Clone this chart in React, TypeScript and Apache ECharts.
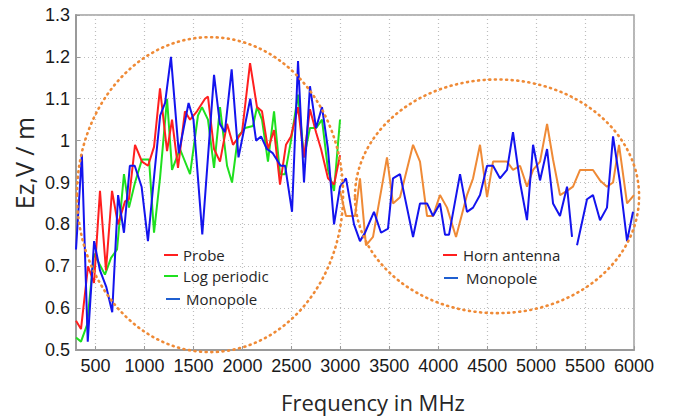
import React, { useEffect, useRef } from "react";
import * as echarts from "echarts";

const xTicks = [500, 1000, 1500, 2000, 2500, 3000, 3500, 4000, 4500, 5000, 5500, 6000];

const probe: [number, number][] = [
  [300, 0.57], [351, 0.55], [423, 0.7], [484, 0.66], [545, 0.88], [606, 0.69], [668, 0.88], [729, 0.8],
  [801, 0.855], [841, 0.86], [903, 0.99], [974, 0.95], [1036, 0.94], [1097, 0.985], [1158, 1.125],
  [1230, 0.975], [1281, 1.05], [1342, 0.935], [1413, 1.07], [1465, 1.05], [1536, 1.07], [1618, 1.1],
  [1648, 1.105], [1710, 0.98], [1771, 0.95], [1843, 1.04], [1904, 0.99], [1996, 1.02], [2078, 1.185],
  [2149, 1.08], [2200, 1.07], [2261, 0.98], [2323, 1.025], [2384, 0.895], [2445, 0.99], [2496, 1.01],
  [2568, 1.08], [2629, 0.96], [2690, 1.075], [2752, 1.02], [2803, 0.98], [2874, 0.91], [2936, 0.895],
  [2997, 0.965],
];

const logPeriodic: [number, number][] = [
  [300, 0.53], [351, 0.52], [413, 0.56], [484, 0.73], [596, 0.68], [658, 0.72], [719, 0.74], [790, 0.92],
  [841, 0.84], [903, 0.9], [974, 0.955], [1046, 0.955], [1097, 0.78], [1158, 0.91], [1230, 1.1],
  [1281, 0.93], [1362, 0.98], [1465, 0.92], [1546, 1.06], [1587, 1.08], [1648, 1.05], [1710, 0.935],
  [1771, 1.08], [1843, 0.94], [1894, 0.9], [1955, 1.01], [2026, 1.03], [2108, 1.035], [2149, 1.08],
  [2200, 1.05], [2261, 0.95], [2323, 1.07], [2384, 0.92], [2435, 0.92], [2496, 1.0], [2568, 1.11],
  [2629, 0.96], [2690, 1.03], [2752, 1.03], [2813, 1.05], [2874, 0.93], [2936, 0.88], [2997, 1.05],
];

const monopole: [number, number | null][] = [
  [300, 0.74], [360, 0.967], [420, 0.52], [485, 0.76], [545, 0.69], [610, 0.65], [670, 0.59], [730, 0.87],
  [790, 0.78], [850, 0.94], [900, 0.94], [970, 0.89], [1035, 0.76], [1100, 0.92], [1160, 1.06],
  [1210, 1.09], [1270, 1.2], [1350, 0.97], [1450, 1.09], [1500, 1.05], [1590, 0.776], [1710, 1.157],
  [1770, 1.04], [1820, 1.02], [1890, 1.17], [1960, 0.96], [2080, 1.1], [2140, 1.0], [2190, 1.01],
  [2250, 0.98], [2310, 0.97], [2390, 0.94], [2436, 0.94], [2507, 0.83], [2568, 1.19], [2629, 0.9],
  [2690, 1.13], [2752, 1.03], [2813, 1.08], [2874, 0.98], [2936, 0.8], [2997, 0.89], [3058, 0.91],
  [3140, 0.8], [3201, 0.76], [3252, 0.78], [3344, 0.83], [3416, 0.78], [3487, 0.79], [3538, 0.91],
  [3610, 0.92], [3681, 0.84], [3743, 0.77], [3814, 0.85], [3886, 0.85], [3947, 0.82], [4018, 0.85],
  [4070, 0.775], [4110, 0.775], [4223, 0.92], [4294, 0.83], [4356, 0.84], [4427, 0.87], [4499, 0.94],
  [4560, 0.94], [4631, 0.91], [4703, 0.93], [4764, 1.02], [4836, 0.9], [4907, 0.81], [4969, 0.99],
  [5040, 0.905], [5112, 0.98], [5173, 0.85], [5244, 0.82], [5316, 0.89], [5367, 0.77], [5390, null],
  [5418, 0.75], [5520, 0.86], [5581, 0.87], [5653, 0.81], [5724, 0.84], [5786, 1.01], [5857, 0.9],
  [5929, 0.76], [5990, 0.83],
];

const hornAntenna: [number, number][] = [
  [2997, 0.88], [3058, 0.82], [3150, 0.82], [3201, 0.91], [3262, 0.75], [3334, 0.77], [3477, 0.96],
  [3538, 0.85], [3610, 0.865], [3743, 0.99], [3814, 0.95], [3886, 0.82], [3947, 0.82], [4018, 0.87],
  [4090, 0.84], [4182, 0.77], [4294, 0.87], [4356, 0.91], [4427, 0.99], [4499, 0.865], [4560, 0.95],
  [4703, 0.95], [4764, 0.93], [4836, 0.94], [4907, 0.89], [4969, 0.93], [5040, 0.95], [5112, 1.04],
  [5173, 0.955], [5244, 0.87], [5316, 0.88], [5377, 0.89], [5449, 0.93], [5581, 0.93], [5653, 0.905],
  [5724, 0.89], [5786, 0.9], [5847, 0.99], [5929, 0.85], [6000, 0.87],
];

// annotation ellipses in data units: [centerMHz, centerValue, radiusMHz, radiusValue]
const leftEllipse = [1669, 0.871, 1359, 0.376];
const rightEllipse = [4601, 0.867, 1451, 0.279];

const RED = "#ff1f1f";
const GREEN = "#1fe01f";
const BLUE = "#1414ee";
const ORANGE = "#ef8a36";
const LEGEND_BLUE = "#1f5fd0";
const TEXT = "#262626";

export default function App() {
  const ref = useRef<HTMLDivElement>(null);
  useEffect(() => {
    document.body.style.margin = "0";
    const chart = echarts.init(ref.current!, null, { renderer: "svg" });
    const gridLine = { show: true, lineStyle: { color: "#bdbdbd", type: [1, 3], width: 1.2 } };
    chart.setOption({
      animation: false,
      backgroundColor: "#ffffff",
      grid: { left: 76, right: 40, top: 15, bottom: 66, show: true, borderColor: "#a0a0a0", borderWidth: 1.5 },
      xAxis: {
        type: "value",
        min: 300,
        max: 6000,
        axisLine: { show: true, lineStyle: { color: "#9a9a9a", width: 2 } },
        axisTick: { show: true, inside: true, length: 4, customValues: xTicks, lineStyle: { color: "#9a9a9a" } },
        axisLabel: {
          customValues: xTicks, fontSize: 18, color: "#1a1a1a", fontFamily: "Liberation Sans", margin: 7,
          formatter: (v: number) => String(v),
        },
        splitLine: gridLine,
      },
      yAxis: {
        type: "value",
        min: 0.5,
        max: 1.3,
        interval: 0.1,
        axisLine: { show: true, lineStyle: { color: "#9a9a9a", width: 2 } },
        axisTick: { show: true, inside: true, length: 4, lineStyle: { color: "#9a9a9a" } },
        axisLabel: { fontSize: 18, color: "#1a1a1a", fontFamily: "Liberation Sans", margin: 6 },
        splitLine: gridLine,
      },
      series: [
        { name: "Log periodic", type: "line", data: logPeriodic, showSymbol: false, symbol: "none", lineStyle: { color: GREEN, width: 2 }, itemStyle: { color: GREEN }, z: 2 },
        { name: "Probe", type: "line", data: probe, showSymbol: false, symbol: "none", lineStyle: { color: RED, width: 2 }, itemStyle: { color: RED }, z: 3 },
        { name: "Horn antenna", type: "line", data: hornAntenna, showSymbol: false, symbol: "none", lineStyle: { color: ORANGE, width: 2 }, itemStyle: { color: ORANGE }, z: 3 },
        { name: "Monopole", type: "line", data: monopole, showSymbol: false, symbol: "none", connectNulls: false, lineStyle: { color: BLUE, width: 2 }, itemStyle: { color: BLUE }, z: 4 },
      ],
    });

    const ell = (e: number[]) => {
      const c = chart.convertToPixel({ gridIndex: 0 }, [e[0], e[1]]) as number[];
      const r = chart.convertToPixel({ gridIndex: 0 }, [e[0] + e[2], e[1] + e[3]]) as number[];
      return {
        type: "ellipse",
        silent: true,
        z: 100,
        shape: { cx: c[0], cy: c[1], rx: Math.abs(r[0] - c[0]), ry: Math.abs(r[1] - c[1]) },
        style: { fill: "none", stroke: ORANGE, lineWidth: 2.6, lineDash: [1, 4.6], lineCap: "round" },
      };
    };
    const legendItem = (x1: number, y: number, color: string, tx: number, label: string) => [
      { type: "line", z: 100, shape: { x1, y1: y, x2: x1 + 14, y2: y }, style: { stroke: color, lineWidth: 2 } },
      {
        type: "text", z: 100, x: tx, y,
        style: { text: label, fontSize: 15, fontFamily: "Open Sans", fill: TEXT, verticalAlign: "middle", align: "left" },
      },
    ];
    chart.setOption({
      graphic: [
        ell(leftEllipse),
        ell(rightEllipse),
        ...legendItem(164, 255, RED, 183, "Probe"),
        ...legendItem(164, 276, GREEN, 183, "Log periodic"),
        ...legendItem(166, 299, LEGEND_BLUE, 186, "Monopole"),
        ...legendItem(443, 255, RED, 463, "Horn antenna"),
        ...legendItem(444, 278, LEGEND_BLUE, 466, "Monopole"),
        {
          type: "text", x: 24, y: 163, rotation: Math.PI / 2,
          style: { text: "Ez,V / m", fontSize: 25, fontFamily: "Open Sans", fill: TEXT, align: "center", verticalAlign: "middle" },
        },
        {
          type: "text", x: 373, y: 402,
          style: { text: "Frequency in MHz", fontSize: 22, fontFamily: "Open Sans", fill: TEXT, align: "center", verticalAlign: "middle" },
        },
      ],
    });
    return () => chart.dispose();
  }, []);
  return <div ref={ref} style={{ width: 674, height: 416 }} />;
}
